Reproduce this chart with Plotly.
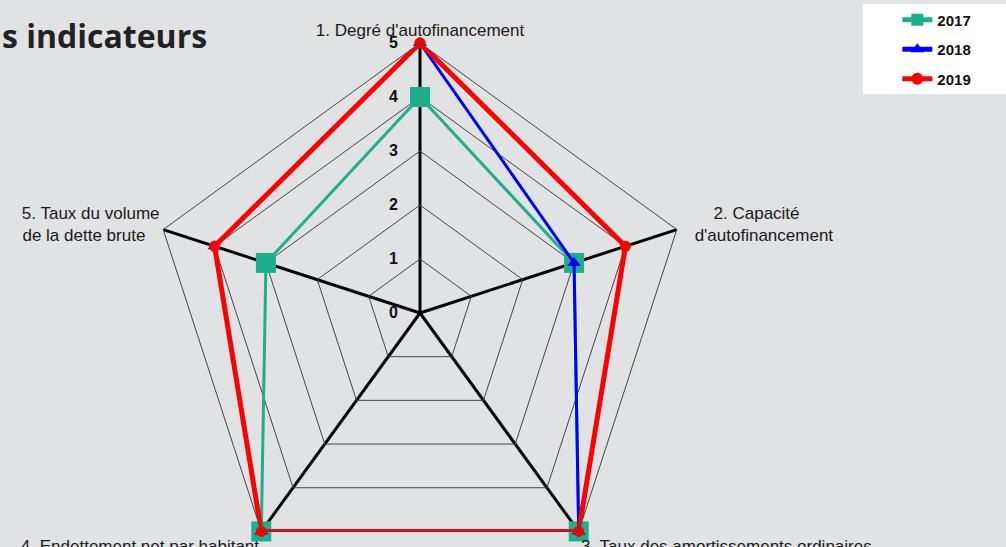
import plotly.graph_objects as go

# axes of the radar, clockwise from the top
categories = [
    "1. Degré d'autofinancement",
    "2. Capacité d'autofinancement",
    "3. Taux des amortissements ordinaires",
    "4. Endettement net par habitant",
    "5. Taux du volume de la dette brute",
]

# displayed labels (wrapped and padded so the two lines look centred)
NB = "\u00a0"
category_labels = [
    "1. Degré d'autofinancement",
    NB * 7 + "2. Capacité<br>" + NB * 3 + "d'autofinancement",
    "3. Taux des amortissements ordinaires",
    "4. Endettement net par habitant",
    "5. Taux du volume<br>de la dette brute" + NB * 3,
]

years = ["2017", "2018", "2019"]
values_2017 = [4, 3, 5, 5, 3]
values_2018 = [5, 3, 5, 5, 4]
values_2019 = [5, 4, 5, 5, 4]

radial_ticks = [0, 1, 2, 3, 4, 5]

BG = "#e1e2e4"
W, H = 1006, 600
L, T, PW = 150, 43, 540  # plot area left/top and size in px


def px_x(x):
    return (x - L) / PW


def px_y(y):
    return 1 - (y - T) / PW


styles = {
    "2017": dict(color="#1fae8b", width=3, symbol="square", size=20),
    "2018": dict(color="#0000ff", width=3, symbol="triangle-up", size=12),
    "2019": dict(color="#ff0000", width=5, symbol="circle", size=11),
}

fig = go.Figure()

for year, vals in zip(years, [values_2017, values_2018, values_2019]):
    st = styles[year]
    # close the polygon
    fig.add_trace(go.Scatterpolar(
        r=vals + vals[:1],
        theta=categories + categories[:1],
        mode="lines+markers",
        name=year,
        legendgroup=year,
        line=dict(color=st["color"], width=st["width"]),
        marker=dict(color=st["color"], symbol=st["symbol"], size=st["size"]),
    ))

fig.update_layout(
    width=W,
    height=H,
    paper_bgcolor=BG,
    plot_bgcolor=BG,
    margin=dict(l=L, r=W - L - PW, t=T, b=H - T - PW),
    font=dict(family="Liberation Sans, Arial", color="#1a1a1a"),
    polar=dict(
        bgcolor=BG,
        gridshape="linear",
        domain=dict(x=[0, 1], y=[0, 1]),
        radialaxis=dict(
            range=[0, 5],
            tickvals=radial_ticks,
            angle=90,
            tickangle=90,
            side="counterclockwise",
            showline=False,
            # invisible ticks push the labels away from the spoke
            ticks="outside",
            ticklen=16,
            tickcolor="rgba(0,0,0,0)",
            gridcolor="#444444",
            gridwidth=1,
            tickfont=dict(size=16, color="#111111", weight="bold"),
        ),
        angularaxis=dict(
            direction="clockwise",
            rotation=90,
            tickvals=categories,
            ticktext=category_labels,
            gridcolor="#000000",
            gridwidth=3,
            linecolor="#444444",
            linewidth=1,
            ticks="",
            tickfont=dict(size=17, color="#1a1a1a"),
        ),
    ),
    legend=dict(
        xref="container",
        yref="container",
        x=0.892,
        y=0.994,
        xanchor="left",
        yanchor="top",
        bgcolor="rgba(0,0,0,0)",
        traceorder="grouped",
        tracegroupgap=7,
        itemsizing="constant",
        font=dict(size=15, color="#111111", weight="bold"),
    ),
    shapes=[dict(
        type="rect", xref="paper", yref="paper", layer="below",
        x0=px_x(863), x1=px_x(1010),
        y0=px_y(94), y1=px_y(4),
        fillcolor="#ffffff", line=dict(width=0),
    )],
    annotations=[dict(
        text="s indicateurs",
        xref="paper", yref="paper",
        x=px_x(0), y=px_y(36),
        xanchor="left", yanchor="middle",
        showarrow=False,
        font=dict(family="Open Sans", size=32, color="#222222", weight="bold"),
    )],
)

# page body without default margin, figure taller than the window is cropped
fig.write_html(
    "out.html",
    config={"displayModeBar": False},
    post_script="document.body.style.margin='0';document.body.style.overflow='hidden';",
)
